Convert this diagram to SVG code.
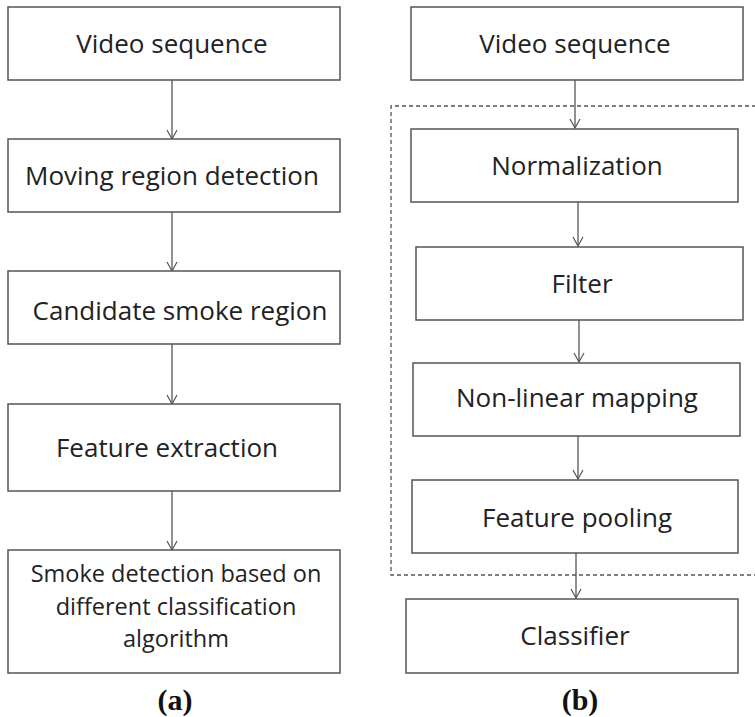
<svg xmlns="http://www.w3.org/2000/svg" width="755" height="717" viewBox="0 0 755 717">
<defs>
<marker id="arr" viewBox="0 0 12 12" refX="11" refY="6" markerWidth="12" markerHeight="12" markerUnits="userSpaceOnUse" orient="auto">
<path d="M2,1 L11,6 L2,11" fill="none" stroke="#555" stroke-width="1.2"/>
</marker>
</defs>
<style>
.box{fill:#fff;stroke:#555;stroke-width:1.5}
.t{font-family:"Open Sans","DejaVu Sans",sans-serif;font-size:26px;fill:#222;text-anchor:middle}
.s{font-size:23.5px}
.c{stroke:#555;stroke-width:1.3;fill:none}
.lab{font-family:"Liberation Serif",serif;font-size:30px;font-weight:bold;fill:#111;text-anchor:middle}
.dash{fill:none;stroke:#555;stroke-width:1.3;stroke-dasharray:4,3}
</style>
<rect width="755" height="717" fill="#fff"/>
<path class="dash" d="M756,106 H391 V575 H756"/>
<g id="connectors">
<line class="c" x1="172" y1="80" x2="172" y2="139" marker-end="url(#arr)"/>
<line class="c" x1="172" y1="212" x2="172" y2="271" marker-end="url(#arr)"/>
<line class="c" x1="172" y1="344" x2="172" y2="404" marker-end="url(#arr)"/>
<line class="c" x1="172" y1="491" x2="172" y2="550" marker-end="url(#arr)"/>
<line class="c" x1="575" y1="80" x2="575" y2="128" marker-end="url(#arr)"/>
<line class="c" x1="578" y1="202" x2="578" y2="246" marker-end="url(#arr)"/>
<line class="c" x1="579" y1="320" x2="579" y2="362" marker-end="url(#arr)"/>
<line class="c" x1="578" y1="436" x2="578" y2="479" marker-end="url(#arr)"/>
<line class="c" x1="576" y1="553" x2="576" y2="598" marker-end="url(#arr)"/>
</g>
<g id="a1"><rect class="box" x="8" y="7" width="332" height="73"/><text class="t" x="172" y="53">Video sequence</text></g>
<g id="a2"><rect class="box" x="8" y="139" width="332" height="73"/><text class="t" x="172" y="185">Moving region detection</text></g>
<g id="a3"><rect class="box" x="8" y="271" width="332" height="73"/><text class="t" x="180" y="320">Candidate smoke region</text></g>
<g id="a4"><rect class="box" x="8" y="404" width="332" height="87"/><text class="t" x="167" y="457">Feature extraction</text></g>
<g id="a5"><rect class="box" x="8" y="550" width="332" height="123"/>
<text class="t s" x="176" y="582">Smoke detection based on</text>
<text class="t s" x="176" y="615">different classification</text>
<text class="t s" x="176" y="647">algorithm</text></g>
<g id="b1"><rect class="box" x="411" y="7" width="332" height="73"/><text class="t" x="575" y="53">Video sequence</text></g>
<g id="b2"><rect class="box" x="411" y="129" width="327" height="73"/><text class="t" x="577" y="175">Normalization</text></g>
<g id="b3"><rect class="box" x="416" y="247" width="327" height="73"/><text class="t" x="582" y="293">Filter</text></g>
<g id="b4"><rect class="box" x="413" y="363" width="327" height="73"/><text class="t" x="577" y="407">Non-linear mapping</text></g>
<g id="b5"><rect class="box" x="412" y="480" width="326" height="73"/><text class="t" x="577" y="527">Feature pooling</text></g>
<g id="b6"><rect class="box" x="406" y="599" width="332" height="74"/><text class="t" x="575" y="645">Classifier</text></g>
<text class="lab" x="175" y="710">(a)</text>
<text class="lab" x="580" y="710">(b)</text>
</svg>
